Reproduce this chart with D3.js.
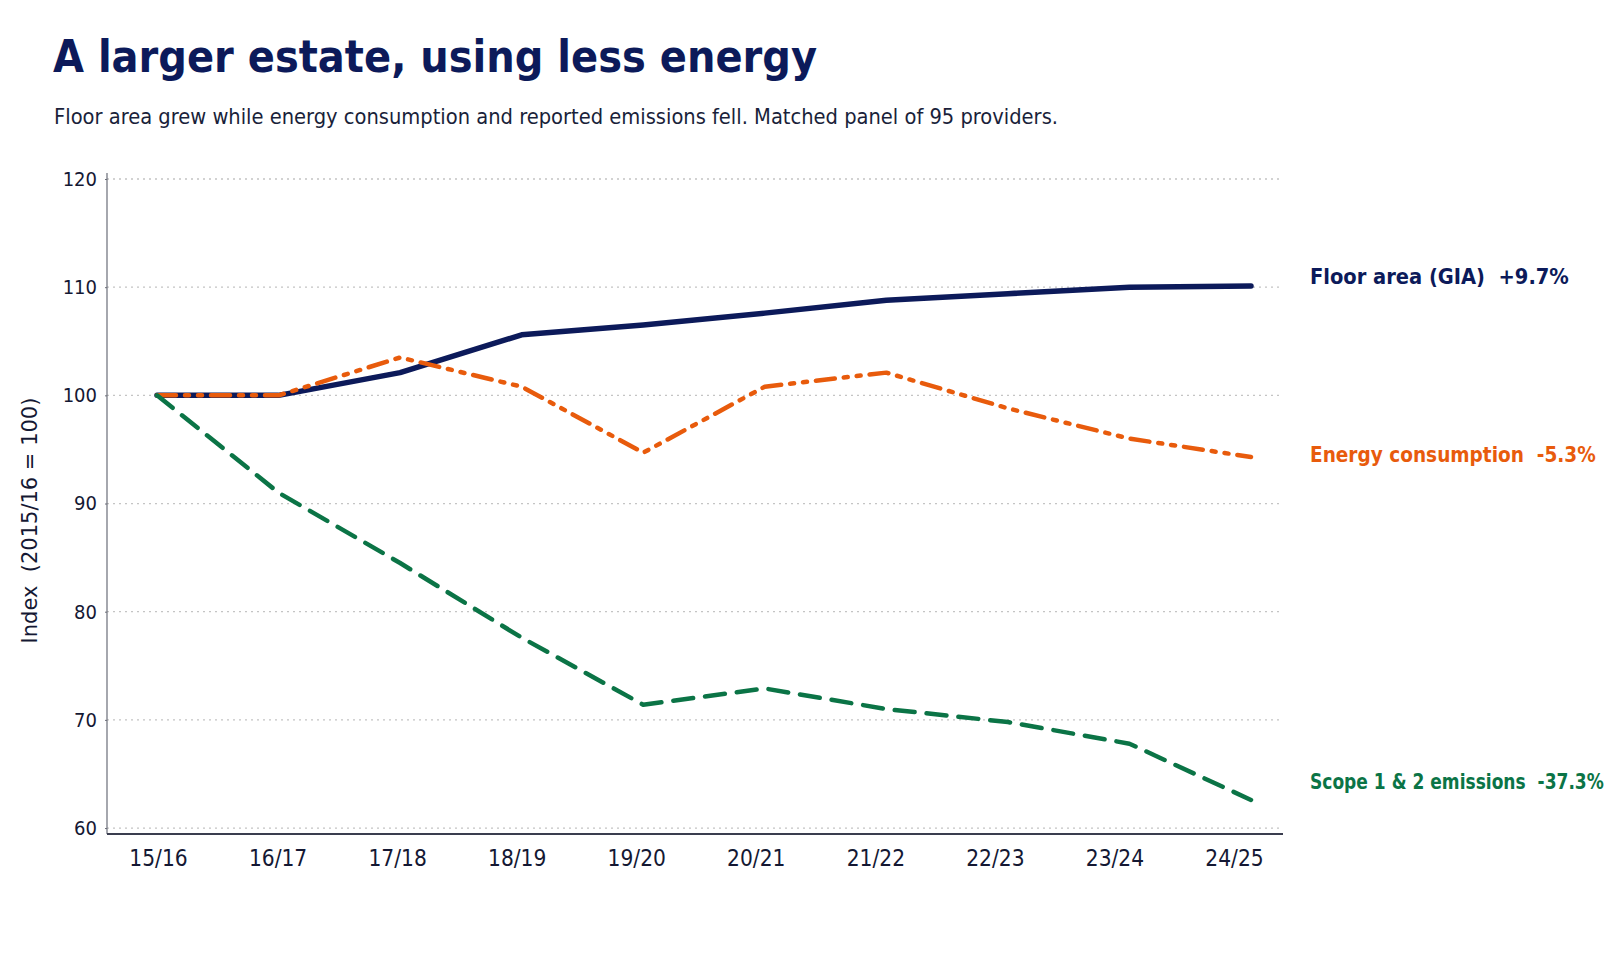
<!DOCTYPE html>
<html><head><meta charset="utf-8">
<script src="https://cdn.jsdelivr.net/npm/d3@7"></script>
<style>
html,body{margin:0;padding:0;background:#fff;}
svg{display:block;}
</style></head>
<body>
<svg id="chart" width="1619" height="971"></svg>
<script>
const categories = ["15/16","16/17","17/18","18/19","19/20","20/21","21/22","22/23","23/24","24/25"];
const floorArea = [100, 100, 102.1, 105.6, 106.5, 107.6, 108.8, 109.4, 110.0, 110.1];
const energy = [100, 100, 103.5, 100.8, 94.7, 100.8, 102.1, 98.8, 96.0, 94.3];
const emissions = [100, 91.0, 84.5, 77.6, 71.4, 72.9, 71.0, 69.8, 67.8, 62.6];
const yTicks = [60, 70, 80, 90, 100, 110, 120];
const seriesNames = ["Floor area (GIA)", "Energy consumption", "Scope 1 & 2 emissions"];
const seriesChanges = ["+9.7%", "-5.3%", "-37.3%"];

(function () {
const navy = "#0c1a5a", orange = "#e85b0c", green = "#0b7446";
const svg = d3.select("#chart");
const cond = "'DejaVu Sans Condensed','DejaVu Sans',sans-serif";

svg.append("text").attr("x", 53).attr("y", 72)
  .attr("font-family", cond).attr("font-weight", "bold").attr("font-size", 45)
  .attr("textLength", 764).attr("lengthAdjust", "spacingAndGlyphs")
  .attr("fill", navy).text("A larger estate, using less energy");
svg.append("text").attr("x", 54).attr("y", 124)
  .attr("font-family", cond).attr("font-size", 20.5)
  .attr("textLength", 1004).attr("lengthAdjust", "spacingAndGlyphs")
  .attr("fill", "#1a1f3a").text("Floor area grew while energy consumption and reported emissions fell. Matched panel of 95 providers.");

const pL = 107, pR = 1283, pT = 179, pB = 834;
const x = d3.scaleLinear().domain([0, categories.length - 1]).range([157, 1251]);
const xLab = d3.scaleLinear().domain([0, categories.length - 1]).range([158, 1234]);
const y = d3.scaleLinear().domain([59.45, 120]).range([pB, pT]);

// grid
svg.append("g").selectAll("line").data(yTicks).join("line")
  .attr("x1", pL).attr("x2", pR)
  .attr("y1", d => y(d)).attr("y2", d => y(d))
  .attr("stroke", "#c4c4c4").attr("stroke-width", 1.3).attr("stroke-dasharray", "2,4");

// y axis
const yAxis = svg.append("g").attr("transform", `translate(${pL},0)`)
  .call(d3.axisLeft(y).tickValues(yTicks).tickSize(2).tickSizeOuter(0).tickPadding(8));
yAxis.select(".domain").attr("stroke", "#6a6d78").attr("stroke-width", 1.2)
  .attr("d", `M0,${pT - 6}V${pB}`);
yAxis.selectAll(".tick line").attr("stroke", "#6a6d78");
yAxis.selectAll("text").attr("font-family", cond).attr("font-size", 20).attr("fill", "#141833");

// x axis
const xAxis = svg.append("g").attr("transform", `translate(0,${pB})`)
  .call(d3.axisBottom(xLab).tickValues(d3.range(categories.length)).tickFormat(i => categories[i]).tickSize(0).tickPadding(16));
xAxis.select(".domain").attr("stroke", "#3a3d4f").attr("stroke-width", 2)
  .attr("d", `M${pL},0H${pR}`);
xAxis.selectAll("text").attr("font-family", cond).attr("font-size", 22.5).attr("fill", "#141833");

// y label
svg.append("text").attr("transform", `translate(37,${(pT + pB) / 2 + 14}) rotate(-90)`)
  .attr("text-anchor", "middle").attr("font-family", "'DejaVu Sans',sans-serif").attr("font-size", 21)
  .attr("fill", "#141833").text("Index\u00a0 (2015/16 = 100)");

const line = d3.line().x((d, i) => x(i)).y(d => y(d));
const series = [
  {v: floorArea, c: navy, w: 5.5, dash: null},
  {v: energy, c: orange, w: 4.5, dash: "19,9,4,9,4,9"},
  {v: emissions, c: green, w: 4.5, dash: "20,12"}
];
svg.append("g").selectAll("path").data(series).join("path")
  .attr("d", d => line(d.v)).attr("fill", "none")
  .attr("stroke", d => d.c).attr("stroke-width", d => d.w)
  .attr("stroke-dasharray", d => d.dash).attr("stroke-linecap", "round").attr("stroke-linejoin", "round");

// end labels (horizontally scaled to the reference widths)
const labelDy = [-8, -1, -17];
const labelLen = [259, 286, 294];
const lab = svg.append("g").selectAll("g").data(series).join("g");
lab.append("text")
  .attr("x", 0).attr("y", 0)
  .attr("dominant-baseline", "middle")
  .attr("font-family", cond).attr("font-weight", "bold").attr("font-size", 21.5)
  .attr("fill", d => d.c)
  .text((d, i) => seriesNames[i] + "\u00a0 " + seriesChanges[i]);
lab.attr("transform", function (d, i) {
  const w = this.querySelector("text").getComputedTextLength();
  const s = labelLen[i] / w;
  return `translate(1310,${y(d.v[d.v.length - 1]) + labelDy[i]}) scale(${s},1)`;
});
})();
</script>
</body></html>
